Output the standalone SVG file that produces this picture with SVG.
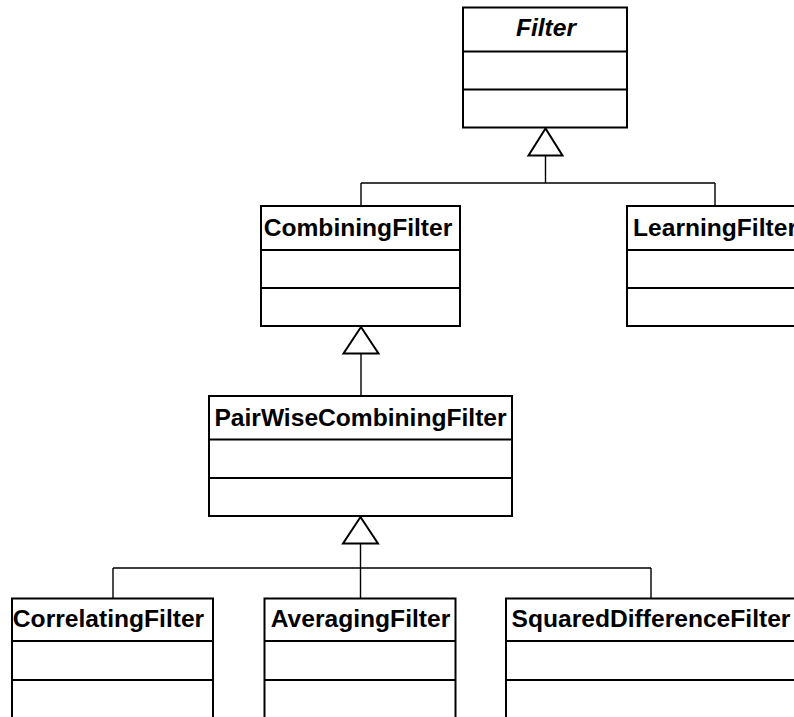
<svg xmlns="http://www.w3.org/2000/svg" width="794" height="717" viewBox="0 0 794 717">
<style>
  .box { fill: #ffffff; stroke: #000000; stroke-width: 2; }
  .sep { stroke: #000000; stroke-width: 2; }
  .name { font-family: "Liberation Sans", Arial, sans-serif; font-size: 24.6px; font-weight: bold; fill: #000000; text-anchor: middle; }
  .abstract { font-style: italic; }
  .conn { fill: none; stroke: #000000; stroke-width: 1.4; }
  .tri { fill: #ffffff; stroke: #000000; stroke-width: 2; stroke-linejoin: miter; }
</style>
<rect x="0" y="0" width="794" height="717" fill="#ffffff"/>

<g id="connectors">
  <path class="conn" d="M545.5,155.5 V183 M361,183 H715 M361,183 V206 M715,183 V206"/>
  <polygon class="tri" points="545.5,128.5 528.5,155.5 562.5,155.5"/>
  <path class="conn" d="M361,353.5 V396"/>
  <polygon class="tri" points="361,327 343.5,353.5 378.5,353.5"/>
  <path class="conn" d="M360.5,543.5 V598.5 M113,568 H651 M113,568 V598.5 M651,568 V598.5"/>
  <polygon class="tri" points="360.5,517 343,543.5 378,543.5"/>
</g>

<g id="Filter">
  <rect class="box" x="463" y="7.5" width="164" height="120"/>
  <line class="sep" x1="463" y1="51.5" x2="627" y2="51.5"/>
  <line class="sep" x1="463" y1="89.5" x2="627" y2="89.5"/>
  <text class="name abstract" x="546" y="36">Filter</text>
</g>

<g id="CombiningFilter">
  <rect class="box" x="261" y="206" width="199" height="120"/>
  <line class="sep" x1="261" y1="250" x2="460" y2="250"/>
  <line class="sep" x1="261" y1="288" x2="460" y2="288"/>
  <text class="name" x="358" y="236">CombiningFilter</text>
</g>

<g id="LearningFilter">
  <rect class="box" x="627" y="206" width="176" height="120"/>
  <line class="sep" x1="627" y1="250" x2="803" y2="250"/>
  <line class="sep" x1="627" y1="288" x2="803" y2="288"/>
  <text class="name" x="715" y="236">LearningFilter</text>
</g>

<g id="PairWiseCombiningFilter">
  <rect class="box" x="209" y="396" width="303" height="120"/>
  <line class="sep" x1="209" y1="439.5" x2="512" y2="439.5"/>
  <line class="sep" x1="209" y1="478" x2="512" y2="478"/>
  <text class="name" x="360.5" y="426">PairWiseCombiningFilter</text>
</g>

<g id="CorrelatingFilter">
  <rect class="box" x="12" y="598.5" width="201" height="122"/>
  <line class="sep" x1="12" y1="641" x2="213" y2="641"/>
  <line class="sep" x1="12" y1="680" x2="213" y2="680"/>
  <text class="name" x="108.5" y="627">CorrelatingFilter</text>
</g>

<g id="AveragingFilter">
  <rect class="box" x="264.5" y="598.5" width="191" height="122"/>
  <line class="sep" x1="264.5" y1="641" x2="455.5" y2="641"/>
  <line class="sep" x1="264.5" y1="680" x2="455.5" y2="680"/>
  <text class="name" x="360.5" y="627">AveragingFilter</text>
</g>

<g id="SquaredDifferenceFilter">
  <rect class="box" x="506" y="598.5" width="291" height="122"/>
  <line class="sep" x1="506" y1="641" x2="797" y2="641"/>
  <line class="sep" x1="506" y1="680" x2="797" y2="680"/>
  <text class="name" x="651" y="627">SquaredDifferenceFilter</text>
</g>
</svg>
